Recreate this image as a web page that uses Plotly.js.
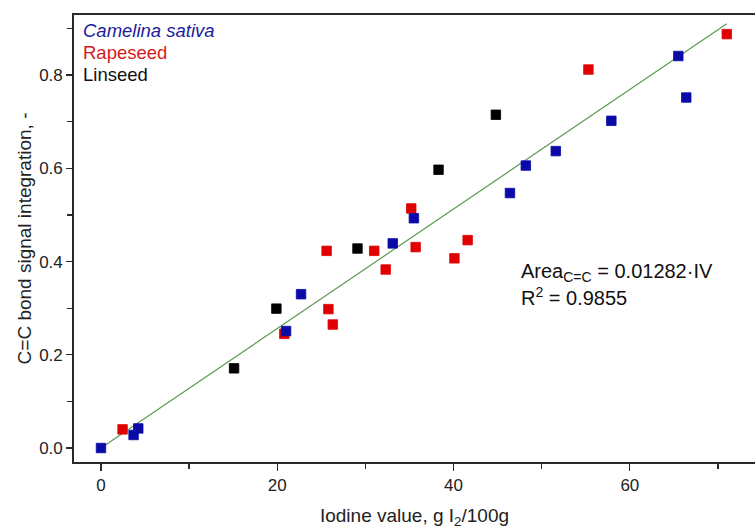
<!DOCTYPE html>
<html>
<head>
<meta charset="utf-8">
<script src="https://cdn.plot.ly/plotly-3.0.1.min.js"></script>
<style>html,body{margin:0;padding:0;background:#fff;}#chart{width:755px;height:529px;}</style>
</head>
<body>
<div id="chart"></div>
<script>
// Camelina sativa
const camelinaX = [0, 3.7, 4.23, 21.0, 22.7, 33.1, 35.5, 46.4, 48.2, 51.6, 57.9, 65.5, 66.4];
const camelinaY = [0.0, 0.028, 0.042, 0.251, 0.330, 0.439, 0.493, 0.547, 0.606, 0.637, 0.702, 0.841, 0.752];
// Rapeseed
const rapeseedX = [2.45, 20.8, 25.6, 25.8, 26.3, 31.0, 32.3, 35.2, 35.7, 40.1, 41.6, 55.3, 71.0];
const rapeseedY = [0.040, 0.245, 0.423, 0.298, 0.265, 0.423, 0.383, 0.514, 0.431, 0.407, 0.446, 0.812, 0.888];
// Linseed
const linseedX = [15.1, 19.9, 29.1, 38.3, 44.8];
const linseedY = [0.171, 0.299, 0.428, 0.597, 0.715];
// Linear fit Area = 0.01282 * IV
const fitSlope = 0.01282;
const fitX = [0, 71];
const fitY = fitX.map(v => fitSlope * v);

const xTicks = [0, 20, 40, 60];
const yTicks = [0.0, 0.2, 0.4, 0.6, 0.8];

const font = "Liberation Sans, Arial, sans-serif";
const mk = (c) => ({symbol: 'square', size: 9.5, color: c, line: {width: 0.8, color: c}});

const traces = [
  {x: fitX, y: fitY, mode: 'lines', line: {color: '#5f9a55', width: 1.2}, showlegend: false, hoverinfo: 'skip'},
  {x: rapeseedX, y: rapeseedY, mode: 'markers', name: 'Rapeseed', marker: mk('#e00000'), showlegend: false},
  {x: linseedX, y: linseedY, mode: 'markers', name: 'Linseed', marker: mk('#000000'), showlegend: false},
  {x: camelinaX, y: camelinaY, mode: 'markers', name: 'Camelina sativa', marker: mk('#0a0aa8'), showlegend: false}
];

const layout = {
  width: 755, height: 529,
  margin: {l: 74, r: 0, t: 15, b: 67},
  paper_bgcolor: '#fff', plot_bgcolor: '#fff',
  font: {family: font, size: 16, color: '#222'},
  xaxis: {
    range: [-3.06, 74.2], tickvals: xTicks, ticktext: xTicks.map(String),
    showgrid: false, zeroline: false, showline: true, linecolor: '#2a2a2a', linewidth: 1.8,
    mirror: true, ticks: 'outside', ticklen: 7, tickwidth: 1.3, tickcolor: '#2a2a2a',
    minor: {ticks: 'outside', ticklen: 5, tickwidth: 1.3, tickcolor: '#2a2a2a', dtick: 10, tick0: 0, showgrid: false},
    tickfont: {size: 17, family: font, color: '#222'},
    title: {text: 'Iodine value, g I<sub>2</sub>/100g', font: {size: 19, family: font, color: '#222'}, standoff: 15}
  },
  yaxis: {
    range: [-0.030, 0.929], tickvals: yTicks, ticktext: yTicks.map(v => v.toFixed(1)),
    showgrid: false, zeroline: false, showline: true, linecolor: '#2a2a2a', linewidth: 1.8,
    ticks: 'outside', ticklen: 6, tickwidth: 1.3, tickcolor: '#2a2a2a',
    minor: {ticks: 'outside', ticklen: 5, tickwidth: 1.3, tickcolor: '#2a2a2a', dtick: 0.1, tick0: 0, showgrid: false},
    tickfont: {size: 17, family: font, color: '#222'},
    title: {text: 'C=C bond signal integration, -', font: {size: 19, family: font, color: '#222'}, standoff: 2}
  },
  annotations: [
    {xref: 'paper', yref: 'paper', x: 0.010, y: 0.966, xanchor: 'left', yanchor: 'middle', showarrow: false,
     text: '<i>Camelina sativa</i>', font: {size: 18.5, family: font, color: '#1c1c9c'}},
    {xref: 'paper', yref: 'paper', x: 0.010, y: 0.917, xanchor: 'left', yanchor: 'middle', showarrow: false,
     text: 'Rapeseed', font: {size: 18.5, family: font, color: '#d41c1c'}},
    {xref: 'paper', yref: 'paper', x: 0.010, y: 0.866, xanchor: 'left', yanchor: 'middle', showarrow: false,
     text: 'Linseed', font: {size: 18.5, family: font, color: '#111'}},
    {xref: 'paper', yref: 'paper', x: 0.653, y: 0.423, xanchor: 'left', yanchor: 'middle', showarrow: false,
     text: 'Area<sub>C=C</sub> = 0.01282·IV', font: {size: 20, family: font, color: '#111'}},
    {xref: 'paper', yref: 'paper', x: 0.653, y: 0.371, xanchor: 'left', yanchor: 'middle', showarrow: false,
     text: 'R<sup>2</sup> = 0.9855', font: {size: 20, family: font, color: '#111'}}
  ]
};

Plotly.newPlot('chart', traces, layout, {staticPlot: true, displayModeBar: false});
</script>
</body>
</html>
